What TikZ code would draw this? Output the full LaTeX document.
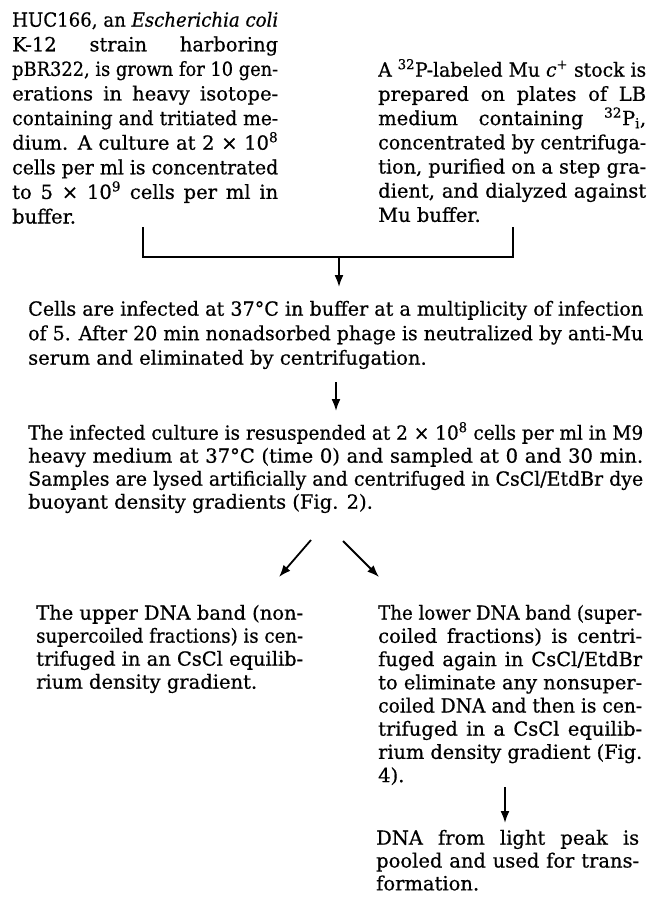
\documentclass[tikz,border=0pt]{standalone}
\usepackage{fontspec}
\setmainfont{DejaVu Serif}[FakeBold=0.6]
\usepackage{graphicx}
\usetikzlibrary{arrows.meta}
\newlength\bw
\newsavebox\jbox
\newcommand\J[1]{\sbox\jbox{#1}\ifdim\wd\jbox>\bw\resizebox{\bw}{\height}{#1}\else\makebox[\bw][s]{#1}\fi}
\newcommand\fs{\rule{0pt}{18pt}}
\newcommand\sups[1]{\textsuperscript{#1}}
\begin{document}
\begin{tikzpicture}[x=1pt,y=-1pt,
  blk/.style 2 args={anchor=north west, inner sep=0pt, align=left,
    font=\fontsize{19.5pt}{#2}\selectfont,
    execute at begin node={\setlength\bw{#1}}},
  conn/.style={line width=1.8pt},
  arr/.style={line width=1.8pt,-{Latex[length=12pt,width=9pt]}}]
\useasboundingbox (0,0) rectangle (650,904);

\node[blk={266pt}{24.6pt}] (tl) at (12,8.5) {%
\J{\fs HUC166, an \textit{Escherichia coli}}\\
\J{K-12 strain harboring}\\
\J{pBR322, is grown for 10 gen-}\\
\J{erations in heavy isotope-}\\
\J{containing and tritiated me-}\\
\J{dium. A culture at 2 × 10\sups{8}}\\
\J{cells per ml is concentrated}\\
\J{to 5 × 10\sups{9} cells per ml in}\\
buffer.};

\node[blk={268pt}{24.2pt}] (tr) at (378,58.5) {%
\J{\fs A \sups{32}P-labeled Mu \textit{c}\sups{+} stock is}\\
\J{prepared on plates of LB}\\
\J{medium containing \sups{32}P\textsubscript{i},}\\
\J{concentrated by centrifuga-}\\
\J{tion, purified on a step gra-}\\
\J{dient, and dialyzed against}\\
Mu buffer.};

\node[blk={615pt}{24.5pt}] (m1) at (28,297.5) {%
\J{\fs Cells are infected at 37°C in buffer at a multiplicity of infection}\\
\J{of 5. After 20 min nonadsorbed phage is neutralized by anti-Mu}\\
serum and eliminated by centrifugation.};

\node[blk={615pt}{23pt}] (m2) at (28,421.5) {%
\J{\fs The infected culture is resuspended at 2 × 10\sups{8} cells per ml in M9}\\
\J{heavy medium at 37°C (time 0) and sampled at 0 and 30 min.}\\
\J{Samples are lysed artificially and centrifuged in CsCl/EtdBr dye}\\
buoyant density gradients (Fig. 2).};

\node[blk={267pt}{23pt}] (bl) at (36,601.5) {%
\J{\fs The upper DNA band (non-}\\
\J{supercoiled fractions) is cen-}\\
\J{trifuged in an CsCl equilib-}\\
rium density gradient.};

\node[blk={264pt}{23.2pt}] (br) at (378,601.5) {%
\J{\fs The lower DNA band (super-}\\
\J{coiled fractions) is centri-}\\
\J{fuged again in CsCl/EtdBr}\\
\J{to eliminate any nonsuper-}\\
\J{coiled DNA and then is cen-}\\
\J{trifuged in a CsCl equilib-}\\
\J{rium density gradient (Fig.}\\
4).};

\node[blk={263pt}{22.8pt}] (fin) at (376,826.5) {%
\J{\fs DNA from light peak is}\\
\J{pooled and used for trans-}\\
formation.};

% bracket joining the two top blocks
\coordinate (bkl) at (143,227);
\coordinate (bkl2) at (143,257);
\coordinate (bkr2) at (513,257);
\coordinate (bkr) at (513,227);
\draw[conn] (bkl) -- (bkl2) -- (bkr2) -- (bkr);

\coordinate (a1s) at (339,257);
\coordinate (a1e) at (339,287);
\draw[arr] (a1s) -- (a1e);

\coordinate (a2s) at (336,382);
\coordinate (a2e) at (336,411);
\draw[arr] (a2s) -- (a2e);

\coordinate (a3s) at (311,540);
\coordinate (a3e) at (279,577);
\draw[arr] (a3s) -- (a3e);

\coordinate (a4s) at (343,541);
\coordinate (a4e) at (379,577);
\draw[arr] (a4s) -- (a4e);

\coordinate (a5s) at (505,787);
\coordinate (a5e) at (505,823);
\draw[arr] (a5s) -- (a5e);
\end{tikzpicture}
\end{document}
